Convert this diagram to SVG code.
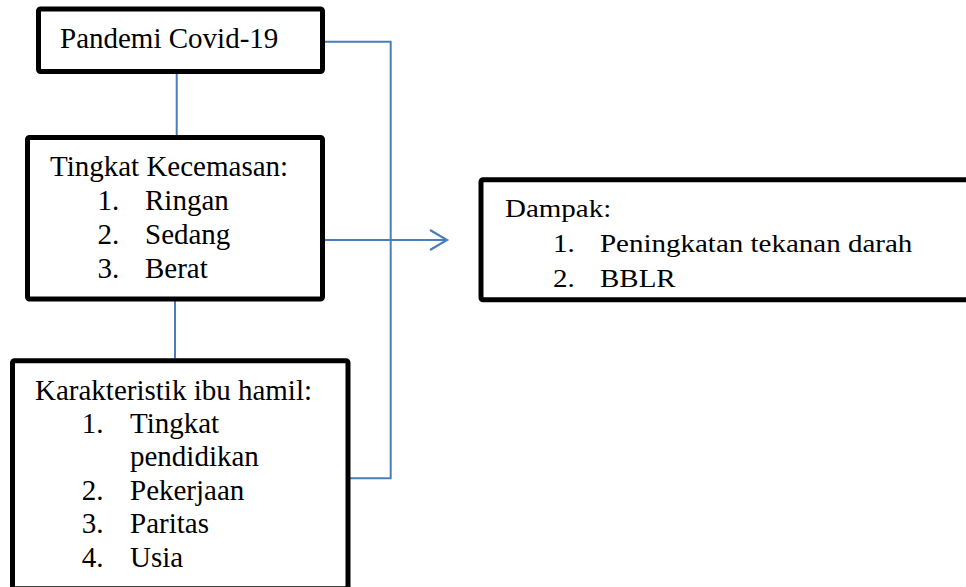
<svg xmlns="http://www.w3.org/2000/svg" width="966" height="587" viewBox="0 0 966 587">
<style>
.box{fill:#ffffff;stroke:#000000;stroke-width:5;stroke-linejoin:round}
.t{font-size:29px;fill:#000000}
.c{fill:none;stroke:#4a7ebb;stroke-width:2}
</style>
<defs>
<marker id="arr" markerUnits="userSpaceOnUse" markerWidth="22" markerHeight="24" refX="19" refY="11" orient="auto" viewBox="0 0 22 24">
<path d="M2,1 L19,11 L2,21" fill="none" stroke="#4a7ebb" stroke-width="2.2"/>
</marker>
</defs>
<rect width="966" height="587" fill="#ffffff"/>
<g id="connectors">
<path class="c" d="M176.7,74 V135"/>
<path class="c" d="M175,301 V358.5"/>
<path class="c" d="M325,41.7 H390.7 V478.3 H350"/>
<path class="c" d="M325,240 H447" marker-end="url(#arr)"/>
</g>
<g font-family="Liberation Serif, Tinos, Times New Roman, DejaVu Serif, serif">
<g id="pandemi">
<rect class="box" x="38.5" y="9" width="284" height="62.5" rx="2"/>
<text class="t" x="60" y="48">Pandemi Covid-19</text>
</g>
<g id="kecemasan">
<rect class="box" x="27.5" y="137.5" width="295" height="161.5" rx="2"/>
<text class="t" x="50" y="176">Tingkat Kecemasan:</text>
<text class="t" x="97.5" y="210">1.</text><text class="t" x="145" y="210">Ringan</text>
<text class="t" x="97.5" y="243.5">2.</text><text class="t" x="145" y="243.5">Sedang</text>
<text class="t" x="97.5" y="277.5">3.</text><text class="t" x="145" y="277.5">Berat</text>
</g>
<g id="karakteristik">
<rect class="box" x="12.5" y="360.8" width="335.5" height="228" rx="2"/>
<text class="t" x="35" y="399.5">Karakteristik ibu hamil:</text>
<text class="t" x="81.7" y="432.7">1.</text><text class="t" x="130" y="432.7">Tingkat</text>
<text class="t" x="130" y="465.7">pendidikan</text>
<text class="t" x="81.7" y="500">2.</text><text class="t" x="130" y="500">Pekerjaan</text>
<text class="t" x="81.7" y="533.3">3.</text><text class="t" x="130" y="533.3">Paritas</text>
<text class="t" x="81.7" y="566.7">4.</text><text class="t" x="130" y="566.7">Usia</text>
</g>
<g id="dampak">
<rect class="box" x="481" y="179.8" width="520" height="120" rx="2"/>
<g transform="translate(0,250) scale(1,0.89) translate(0,-250)">
<text class="t" x="505" y="212.6">Dampak:</text>
<text class="t" x="553" y="251.9">1.</text><text class="t" x="600" y="251.9">Peningkatan tekanan darah</text>
<text class="t" x="553" y="291.6">2.</text><text class="t" x="600" y="291.6">BBLR</text>
</g>
</g>
</g>
</svg>
